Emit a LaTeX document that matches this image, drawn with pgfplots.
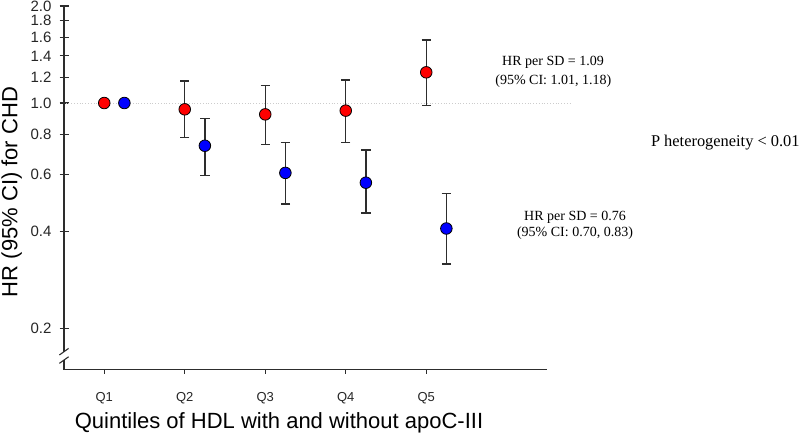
\documentclass[border=0pt]{standalone}
\usepackage{fontspec}
\setmainfont{Liberation Sans}
\newfontfamily\timesf{Liberation Serif}
\usepackage{pgfplots}
\usepackage{pgfplotstable}
\pgfplotsset{compat=1.18}
\pgfplotstableread{
x y ep em
1 1.0 0 0
2 0.956 0.214 0.176
3 0.922 0.213 0.177
4 0.947 0.233 0.192
5 1.245 0.325 0.261
}\redtab
\pgfplotstableread{
x y ep em
1.25 1.0 0 0
2.25 0.737 0.157 0.142
3.25 0.607 0.146 0.121
4.25 0.566 0.149 0.110
5.25 0.408 0.117 0.091
}\bluetab
\definecolor{axc}{RGB}{45,45,45}
\begin{document}
\begin{tikzpicture}[x=1pt,y=1pt]
\useasboundingbox (0pt,0pt) rectangle (800pt,437pt);
\begin{axis}[
  at={(64pt,67.5pt)}, anchor=south west,
  scale only axis, width=483pt, height=363.5pt,
  xmin=0.5, xmax=6.5, ymode=log, ymin=0.149, ymax=2,
  clip=false,
  axis line style={draw=none},
  ytick={0.2,0.4,0.6,0.8,1.0,1.2,1.4,1.6,1.8,2.0},
  yticklabels={0.2,0.4,0.6,0.8,1.0,1.2,1.4,1.6,1.8,2.0},
  xtick={1,2,3,4,5},
  xticklabels={Q1,Q2,Q3,Q4,Q5},
  yminorticks=false, xminorticks=false,
  tick pos=left,
  tick align=center,
  major tick length=9pt,
  xtick style={draw=none},
  ytick style={draw=axc, line width=1.1pt},
  yticklabel style={font=\fontsize{15}{15}\selectfont, text=black!85, anchor=east, xshift=-4.5pt},
  xticklabel style={font=\fontsize{13}{13}\selectfont, text=black!85, anchor=base, yshift=-27pt},
  error bars/error bar style={draw=axc, line width=1.4pt},
  error bars/error mark options={draw=axc, line width=1.4pt, mark size=4.7pt, rotate=90},
]
% reference line
\addplot[gray!40, dotted, line width=0.8pt, forget plot] coordinates {(0.52,1) (6.81,1)};
% axis lines with break
\draw[axc, line width=1.2pt] (rel axis cs:0,1) -- (rel axis cs:0,0.049);
\draw[axc, line width=1.2pt] (rel axis cs:0,0.026) -- (rel axis cs:0,0) -- (rel axis cs:1,0);
\draw[axc, line width=1.1pt] ([shift={(-4.6pt,-3.3pt)}]rel axis cs:0,0.049) -- ([shift={(4.6pt,3.3pt)}]rel axis cs:0,0.049);
\draw[axc, line width=1.1pt] ([shift={(-4.6pt,-3.3pt)}]rel axis cs:0,0.026) -- ([shift={(4.6pt,3.3pt)}]rel axis cs:0,0.026);
\pgfplotsinvokeforeach{1,2,3,4,5}{
  \draw[axc, line width=1pt] (axis cs:#1,0.149) -- ++(0pt,-4pt);
}
% markers with error bars
\addplot[only marks, mark=*, mark size=5.8pt, mark options={fill=red, draw=black, line width=0.8pt},
  error bars/.cd, y dir=both, y explicit]
  table[x=x, y=y, y error plus=ep, y error minus=em] {\redtab};
\addplot[only marks, mark=*, mark size=5.8pt, mark options={fill=blue, draw=black, line width=0.8pt},
  error bars/.cd, y dir=both, y explicit]
  table[x=x, y=y, y error plus=ep, y error minus=em] {\bluetab};
\end{axis}
\node[rotate=90, anchor=base, font=\fontsize{22}{22}\selectfont] at (17.3pt,245pt) {HR (95\% CI) for CHD};
\node[anchor=base, font=\fontsize{22}{22}\selectfont] at (279pt,8.7pt) {Quintiles of HDL with and without apoC-III};
\node[anchor=base, font=\timesf\fontsize{14}{14}\selectfont] at (553pt,371.3pt) {HR per SD = 1.09};
\node[anchor=base, font=\timesf\fontsize{14}{14}\selectfont] at (553.3pt,352pt) {(95\% CI: 1.01, 1.18)};
\node[anchor=base, font=\timesf\fontsize{14}{14}\selectfont] at (575pt,217pt) {HR per SD = 0.76};
\node[anchor=base, font=\timesf\fontsize{14}{14}\selectfont] at (575pt,200.3pt) {(95\% CI: 0.70, 0.83)};
\node[anchor=base, font=\timesf\fontsize{16.4}{16.4}\selectfont] at (725.3pt,290.3pt) {P heterogeneity < 0.01};
\end{tikzpicture}
\end{document}
